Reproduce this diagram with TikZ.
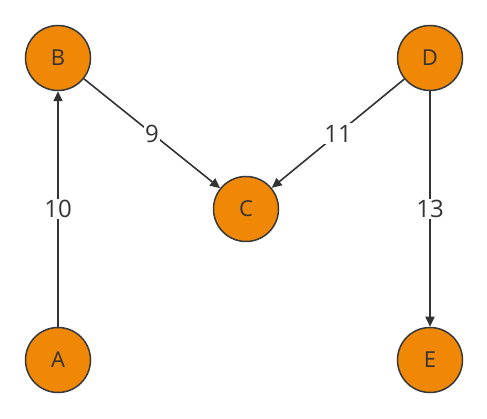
\documentclass[tikz,border=0pt]{standalone}
\usepackage{fontspec}
\setmainfont{Open Sans}
\usetikzlibrary{arrows.meta}
\definecolor{nfill}{HTML}{F08705}
\definecolor{nline}{HTML}{36393D}
\definecolor{etxt}{HTML}{333333}
\begin{document}
\begin{tikzpicture}[x=1pt,y=-1pt,
  vert/.style={circle,draw=nline,line width=1.5pt,fill=nfill,minimum size=65pt,inner sep=0pt,text=etxt,font=\fontsize{22}{26}\selectfont},
  edge/.style={draw=etxt,line width=1.6pt,-{Triangle[length=10pt,width=9pt]}},
  elab/.style={fill=white,text=etxt,inner sep=1.5pt,font=\fontsize{24}{28}\selectfont}]
\useasboundingbox (0,0) rectangle (487,419);
\node[vert] (B) at (58,58) {B};
\node[vert] (D) at (430,58) {D};
\node[vert] (C) at (246,209) {C};
\node[vert] (A) at (58,360) {A};
\node[vert] (E) at (430,360) {E};
\path[edge] (A) -- node[elab,pos=0.5] {10} (B);
\path[edge] (B) -- node[elab,pos=0.5] {9} (C);
\path[edge] (D) -- node[elab,pos=0.5] {11} (C);
\path[edge] (D) -- node[elab,pos=0.5] {13} (E);
\end{tikzpicture}
\end{document}
